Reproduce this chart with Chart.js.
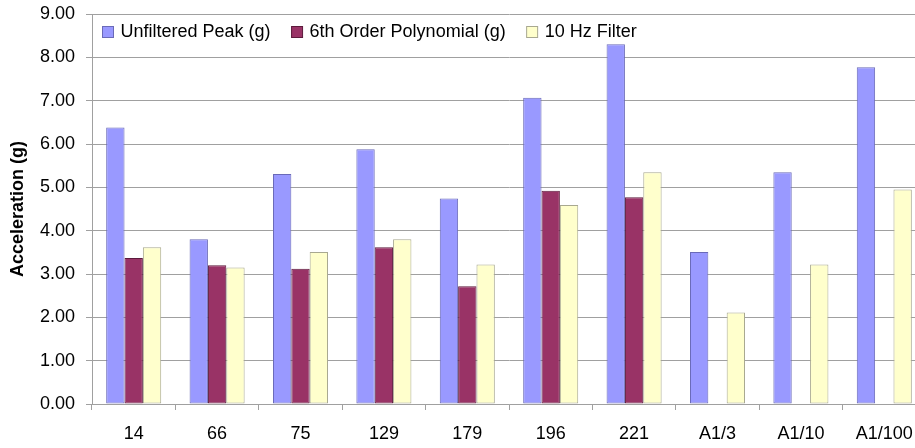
<!DOCTYPE html>
<html>
<head>
<meta charset="utf-8">
<title>Acceleration</title>
<script src="https://cdn.jsdelivr.net/npm/chart.js@4.4.1/dist/chart.umd.min.js"></script>
<style>
    html, body { margin: 0; padding: 0; background: #fff; overflow: hidden; }
    canvas { display: block; }
</style>
</head>
<body>
<canvas id="accelChart" width="926" height="448"></canvas>
<script>
// Data per test
const categories = ['14', '66', '75', '129', '179', '196', '221', 'A1/3', 'A1/10', 'A1/100'];
const seriesNames = ['Unfiltered Peak (g)', '6th Order Polynomial (g)', '10 Hz Filter'];
const unfilteredPeak = [6.38, 3.80, 5.31, 5.88, 4.74, 7.07, 8.30, 3.51, 5.35, 7.77];
const polynomial6th = [3.37, 3.20, 3.12, 3.62, 2.72, 4.92, 4.77, null, null, null];
const filter10Hz = [3.62, 3.15, 3.51, 3.80, 3.22, 4.59, 5.35, 2.11, 3.22, 4.95];
const yMin = 0;
const yMax = 9;
const yStep = 1;

const FONT = '"Liberation Sans", Arial, sans-serif';
const GRID = '#a0a0a0';

// Legend drawn inside the plot, top-left, in one row
const insideLegend = {
    id: 'insideLegend',
    afterDraw(chart) {
        const ctx = chart.ctx;
        const area = chart.chartArea;
        let x = area.left + 10.5;
        const y = area.top + 12.5;
        ctx.save();
        ctx.font = '18px ' + FONT;
        ctx.textBaseline = 'middle';
        ctx.lineWidth = 1;
        chart.data.datasets.forEach(ds => {
            ctx.fillStyle = ds.backgroundColor;
            ctx.fillRect(x, y, 11, 11);
            ctx.strokeStyle = ds.borderColor;
            ctx.strokeRect(x, y, 11, 11);
            ctx.fillStyle = '#000';
            ctx.fillText(ds.label, x + 18, y + 5.5);
            x += 18 + ctx.measureText(ds.label).width + 21;
        });
        ctx.restore();
    }
};

const ctx = document.getElementById('accelChart').getContext('2d');
new Chart(ctx, {
    type: 'bar',
    data: {
        labels: categories,
        datasets: [
            {
                label: seriesNames[0],
                data: unfilteredPeak,
                backgroundColor: '#9999ff',
                borderColor: '#6a6ab8',
                borderWidth: 1
            },
            {
                label: seriesNames[1],
                data: polynomial6th,
                backgroundColor: '#993366',
                borderColor: '#5c1a3c',
                borderWidth: 1
            },
            {
                label: seriesNames[2],
                data: filter10Hz,
                backgroundColor: '#ffffcc',
                borderColor: '#a8a890',
                borderWidth: 1
            }
        ]
    },
    options: {
        responsive: false,
        animation: false,
        devicePixelRatio: 1,
        layout: { padding: { top: 14, right: 0, left: 0, bottom: 0 } },
        datasets: {
            bar: {
                barPercentage: 1,
                categoryPercentage: 0.66,
                borderSkipped: false
            }
        },
        plugins: {
            legend: { display: false },
            tooltip: { enabled: false }
        },
        scales: {
            x: {
                grid: {
                    offset: true,
                    drawOnChartArea: false,
                    color: GRID,
                    tickLength: 6
                },
                border: { color: GRID },
                ticks: {
                    color: '#000',
                    font: { family: FONT, size: 18 },
                    padding: 13,
                    maxRotation: 0,
                    autoSkip: false
                },
                afterFit(scale) {
                    scale.height = 44;
                    scale.paddingLeft = 0;
                    scale.paddingRight = 0;
                }
            },
            y: {
                min: yMin,
                max: yMax,
                grid: {
                    color: GRID,
                    tickLength: 6
                },
                border: { color: GRID },
                ticks: {
                    stepSize: yStep,
                    color: '#000',
                    font: { family: FONT, size: 18 },
                    padding: 11,
                    callback: v => v.toFixed(2)
                },
                title: {
                    display: true,
                    text: 'Acceleration (g)',
                    color: '#000',
                    font: { family: FONT, size: 18, weight: 'bold' },
                    padding: { top: 7, bottom: 0 }
                },
                afterFit(scale) {
                    scale.width = 92;
                    scale.paddingTop = 0;
                    scale.paddingBottom = 0;
                }
            }
        }
    },
    plugins: [insideLegend]
});
</script>
</body>
</html>
